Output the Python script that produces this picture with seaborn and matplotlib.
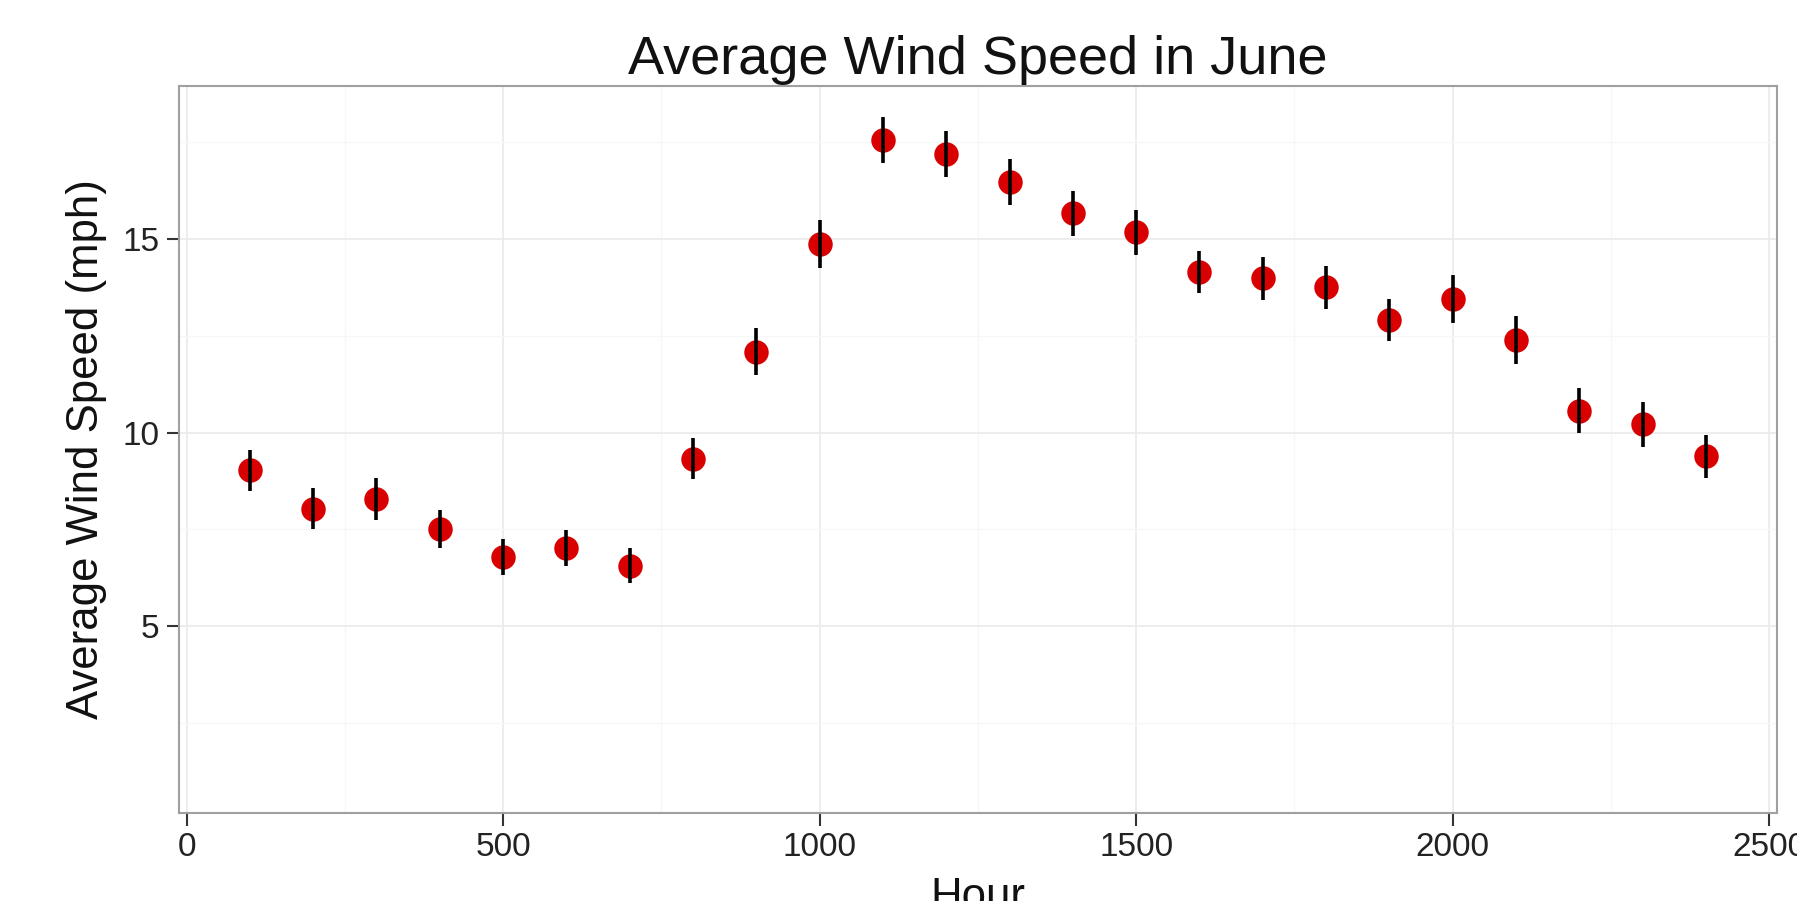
import matplotlib
matplotlib.use("Agg")
import matplotlib.pyplot as plt
from matplotlib.ticker import MultipleLocator
import pandas as pd
import seaborn as sns

hours = [100, 200, 300, 400, 500, 600, 700, 800, 900, 1000, 1100, 1200,
         1300, 1400, 1500, 1600, 1700, 1800, 1900, 2000, 2100, 2200, 2300, 2400]
speed = [9.03, 8.04, 8.28, 7.52, 6.78, 7.02, 6.56, 9.33, 12.09, 14.87, 17.56, 17.20,
         16.47, 15.66, 15.17, 14.15, 13.98, 13.75, 12.91, 13.45, 12.39, 10.56, 10.22, 9.39]
err = [0.53, 0.52, 0.54, 0.49, 0.46, 0.47, 0.45, 0.54, 0.60, 0.62, 0.60, 0.60,
       0.59, 0.59, 0.59, 0.55, 0.55, 0.55, 0.55, 0.62, 0.62, 0.58, 0.58, 0.55]

df = pd.DataFrame({"Hour": hours, "Speed": speed, "Err": err})

sns.set_style("whitegrid")
plt.rcParams['font.family'] = ['Liberation Sans', 'DejaVu Sans']

W, H = 1797, 901
fig = plt.figure(figsize=(W / 100, H / 100), dpi=100)
ax = fig.add_axes([179 / W, 1 - 812.5 / H, (1776.7 - 179) / W, (812.5 - 86) / H])

sns.scatterplot(data=df, x="Hour", y="Speed", ax=ax, color="#D80000", s=310,
                linewidth=0, zorder=3)
ax.errorbar(df["Hour"], df["Speed"], yerr=df["Err"], fmt="none", ecolor="black",
            elinewidth=2.6, capsize=0, zorder=4)

ax.set_xlim(-12, 2512)
ax.set_ylim(0.19, 18.95)
ax.xaxis.set_major_locator(MultipleLocator(500))
ax.xaxis.set_minor_locator(MultipleLocator(250))
ax.set_yticks([5, 10, 15])
ax.yaxis.set_minor_locator(MultipleLocator(2.5))

ax.grid(which="major", color="#ECECEC", linewidth=1.3)
ax.grid(which="minor", color="#F7F7F7", linewidth=1.0)
ax.set_axisbelow(True)
for sp in ax.spines.values():
    sp.set_color("#A0A0A0")
    sp.set_linewidth(1.5)

ax.tick_params(axis="both", which="major", length=9, width=1.5, color="#333333",
               labelsize=24, labelcolor="#222222", pad=5)
ax.tick_params(axis="both", which="minor", length=0)
ax.tick_params(axis="x", bottom=True)
ax.tick_params(axis="y", left=True)

ax.set_xlabel("")
ax.set_ylabel("")
ax.set_title("Average Wind Speed in June", fontsize=39, color="#111111", pad=8.3)

fig.text(87 / W, 1 - 449 / H, "Average Wind Speed (mph)", rotation=90,
         ha="center", va="center", fontsize=31.5, color="#111111")
fig.text(978 / W, 1 - 908.5 / H, "Hour", ha="center", va="baseline",
         fontsize=31.5, color="#111111")

fig.savefig("out.png", dpi=100)
